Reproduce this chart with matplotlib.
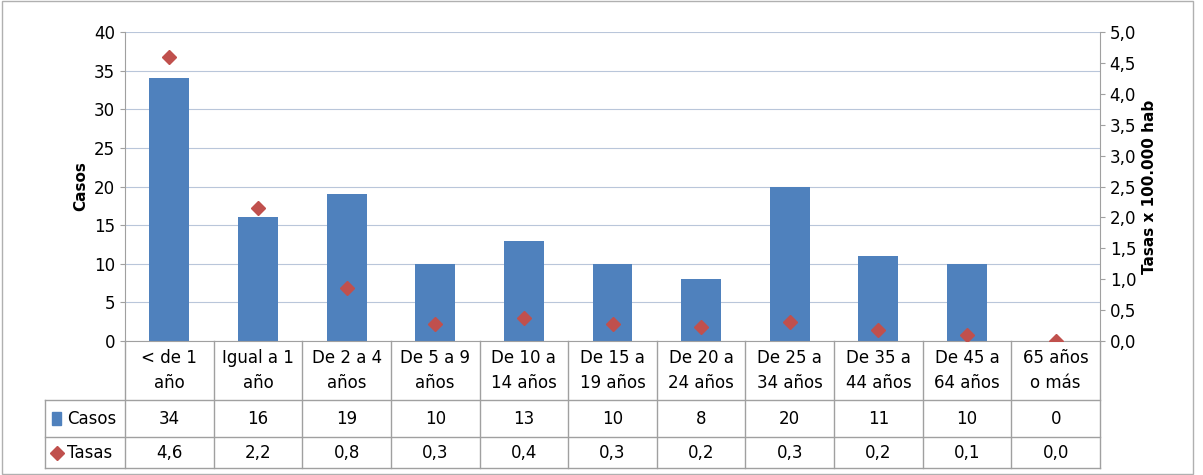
import numpy as np
import matplotlib
matplotlib.use('Agg')
import matplotlib.pyplot as plt
from matplotlib.transforms import blended_transform_factory
from matplotlib.patches import Rectangle
from matplotlib.lines import Line2D

categorias = ["< de 1\naño", "Igual a 1\naño", "De 2 a 4\naños", "De 5 a 9\naños",
              "De 10 a\n14 años", "De 15 a\n19 años", "De 20 a\n24 años", "De 25 a\n34 años",
              "De 35 a\n44 años", "De 45 a\n64 años", "65 años\no más"]
casos = [34, 16, 19, 10, 13, 10, 8, 20, 11, 10, 0]
tasas = [4.6, 2.15, 0.85, 0.27, 0.37, 0.28, 0.22, 0.3, 0.18, 0.1, 0.0]
tasas_lbl = ["4,6", "2,2", "0,8", "0,3", "0,4", "0,3", "0,2", "0,3", "0,2", "0,1", "0,0"]

azul = "#4F81BD"
rojo = "#C0504D"
borde = "#A0A0A0"

fig = plt.figure(figsize=(12.03, 4.75), dpi=100)
fig.patches.append(Rectangle((0.002, 0.002), 0.99, 0.995, transform=fig.transFigure,
                             fill=False, edgecolor="#B0B0B0", lw=1))
ax = fig.add_axes([0.1039, 0.2821, 0.8105, 0.6505])
x = np.arange(len(categorias))
ax.bar(x, casos, width=0.45, color=azul, zorder=2)
ax.set_xlim(-0.5, 10.5)
ax.set_ylim(0, 40)
ax.set_yticks(range(0, 41, 5))
ax.grid(axis="y", color="#B9C6DA", lw=0.8, zorder=0)
ax.set_xticks([])
ax.set_ylabel("Casos", fontweight="bold", fontsize=11)
for s in ["top", "right"]:
    ax.spines[s].set_visible(False)
for s in ["left", "bottom"]:
    ax.spines[s].set_color(borde)
ax.tick_params(axis="y", labelsize=12, color=borde)

ax2 = ax.twinx()
ax2.plot(x, tasas, "D", color=rojo, markersize=7, zorder=3)
ax2.set_ylim(0, 5)
ax2.set_yticks(np.arange(0, 5.01, 0.5))
ax2.set_yticklabels([f"{v:.1f}".replace(".", ",") for v in np.arange(0, 5.01, 0.5)])
ax2.tick_params(axis="y", labelsize=12, color=borde)
ax2.set_ylabel("Tasas x 100.000 hab", fontweight="bold", fontsize=11)
for s in ["top", "left", "bottom"]:
    ax2.spines[s].set_visible(False)
ax2.spines["right"].set_color(borde)

# data table
tr = blended_transform_factory(ax.transData, ax.transAxes)
y0, y1, y2, y3 = 0.0, -0.191, -0.311, -0.411
xl = -1.40
kw = dict(transform=tr, clip_on=False, color=borde, lw=1)
for yy in [y1, y2, y3]:
    ax.add_line(Line2D([xl, 10.5], [yy, yy], **kw))
for i in range(12):
    ax.add_line(Line2D([i - 0.5, i - 0.5], [y0, y3], **kw))
ax.add_line(Line2D([xl, xl], [y1, y3], **kw))
for i in range(len(categorias)):
    ax.text(i, (y0 + y1) / 2, categorias[i], transform=tr, ha="center", va="center",
            fontsize=12, linespacing=1.5)
    ax.text(i, (y1 + y2) / 2, str(casos[i]), transform=tr, ha="center", va="center", fontsize=12)
    ax.text(i, (y2 + y3) / 2, tasas_lbl[i], transform=tr, ha="center", va="center", fontsize=12)
ax.add_patch(Rectangle((xl + 0.08, (y1 + y2) / 2 - 0.02), 0.1, 0.04, transform=tr,
                       clip_on=False, color=azul))
ax.plot([xl + 0.13], [(y2 + y3) / 2], "D", color=rojo, markersize=7, transform=tr, clip_on=False)
ax.text(xl + 0.25, (y1 + y2) / 2, "Casos", transform=tr, va="center", fontsize=12)
ax.text(xl + 0.25, (y2 + y3) / 2, "Tasas", transform=tr, va="center", fontsize=12)

fig.savefig("out.png", dpi=100)
